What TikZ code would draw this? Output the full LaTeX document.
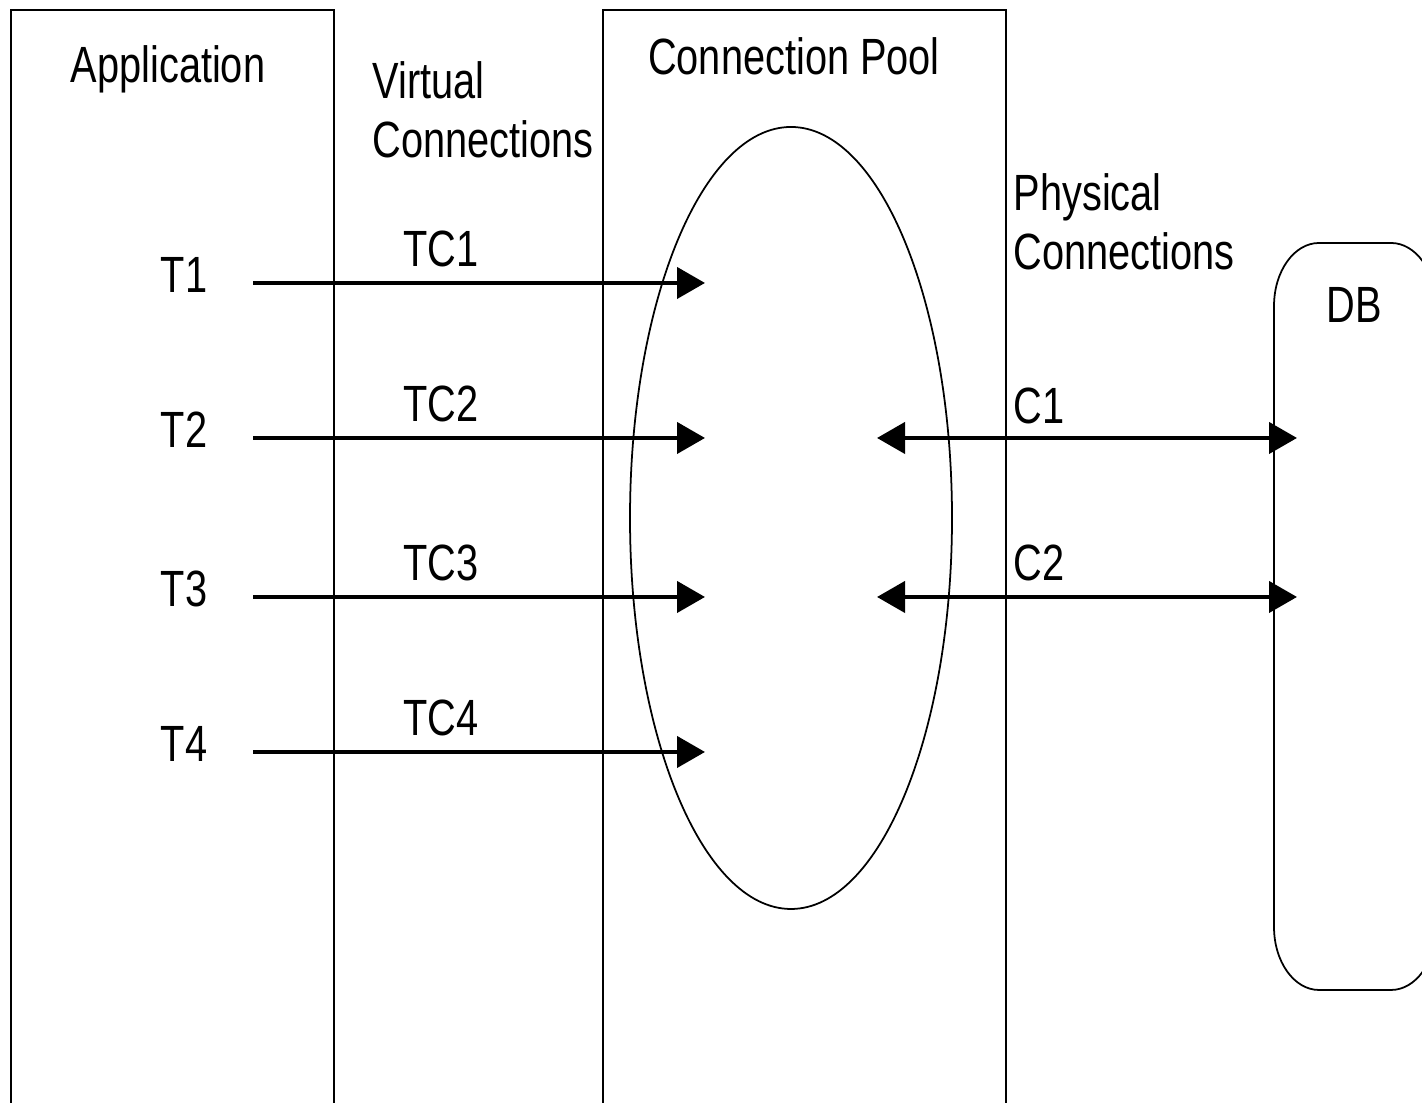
\documentclass[tikz,border=0pt]{standalone}
\usepackage{fontspec}
\setmainfont{Liberation Sans}[FakeStretch=0.78]
\usetikzlibrary{arrows.meta}

\begin{document}
\begin{tikzpicture}[x=0.1mm,y=0.1mm,
    lbl/.style={
% The text:
font=\fontsize{14.5}{17}\selectfont,
% The size:
inner sep=0pt,
},
    column/.style={
% The border:
line width=0.6pt, draw,
},
    virtual/.style={
% The border:
line width=1.2pt,
% The tip:
-{Triangle[length=2.8mm,width=3.1mm]},
},
    physical/.style={
% The border:
line width=1.2pt,
% The tips:
{Triangle[length=2.8mm,width=3.1mm]}-{Triangle[length=2.8mm,width=3.1mm]},
},
]
  \clip (0,0) rectangle (1422,1103);

  % the two open columns
  \draw[column] (11,0) -- (11,1093) -- (334,1093) -- (334,0);
  \draw[column] (603,0) -- (603,1093) -- (1006,1093) -- (1006,0);

  % the pool and the database
  \draw[line width=0.5pt] (791,585) ellipse [x radius=161, y radius=391];
  \draw[line width=0.5pt] (1274,797) arc [start angle=180, end angle=90,
    x radius=45, y radius=63] -- (1391,860) arc [start angle=90,
    end angle=0, x radius=45, y radius=63] -- (1436,176) arc
    [start angle=0, end angle=-90, x radius=45, y radius=63] -- (1319,113)
    arc [start angle=270, end angle=180, x radius=45, y radius=63] -- cycle;

  \node[lbl,anchor=base]                (app) at (168, 1020) {Application};
  \node[lbl,anchor=base west,align=left] (virt) at (372, 945)
    {Virtual\\Connections};
  \node[lbl,anchor=base]                (pool) at (794, 1028) {Connection Pool};
  \node[lbl,anchor=base west,align=left] (phys) at (1013, 833)
    {Physical\\Connections};
  \node[lbl,anchor=base]                (db) at (1354, 780) {DB};

  \node[lbl,anchor=base]                (T1) at (184, 810) {T1};
  \node[lbl,anchor=base]                (T2) at (184, 655) {T2};
  \node[lbl,anchor=base]                (T3) at (184, 496) {T3};
  \node[lbl,anchor=base]                (T4) at (184, 341) {T4};
  \node[lbl,anchor=base]                (TC1) at (441, 836) {TC1};
  \node[lbl,anchor=base]                (TC2) at (441, 681) {TC2};
  \node[lbl,anchor=base]                (TC3) at (441, 522) {TC3};
  \node[lbl,anchor=base]                (TC4) at (441, 367) {TC4};
  \node[lbl,anchor=base west]           (C1) at (1013, 679) {C1};
  \node[lbl,anchor=base west]           (C2) at (1013, 522) {C2};

  \coordinate (t1s) at (253, 820);
  \coordinate (t1e) at (705, 820);
  \coordinate (t2s) at (253, 665);
  \coordinate (t2e) at (705, 665);
  \coordinate (t3s) at (253, 506);
  \coordinate (t3e) at (705, 506);
  \coordinate (t4s) at (253, 351);
  \coordinate (t4e) at (705, 351);
  \coordinate (c1s) at (877, 665);
  \coordinate (c1e) at (1297, 665);
  \coordinate (c2s) at (877, 506);
  \coordinate (c2e) at (1297, 506);

  \draw [virtual] (t1s) -- (t1e);
  \draw [virtual] (t2s) -- (t2e);
  \draw [virtual] (t3s) -- (t3e);
  \draw [virtual] (t4s) -- (t4e);
  \draw [physical] (c1s) -- (c1e);
  \draw [physical] (c2s) -- (c2e);

\end{tikzpicture}
\end{document}
